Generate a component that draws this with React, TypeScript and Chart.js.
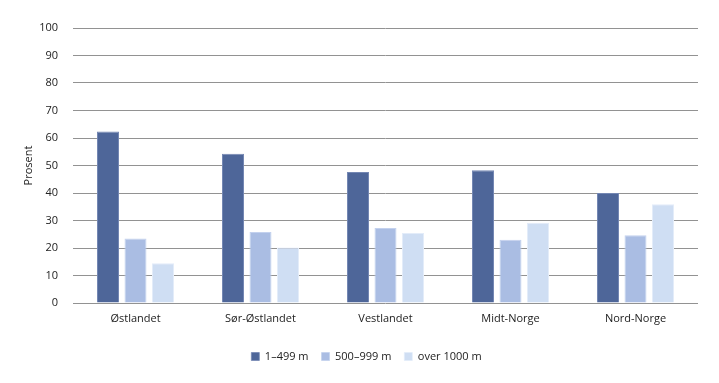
import React, { useEffect, useRef } from "react";
import { Chart, registerables } from "chart.js";

Chart.register(...registerables);

const categories = ["Østlandet", "Sør-Østlandet", "Vestlandet", "Midt-Norge", "Nord-Norge"];
const seriesNames = ["1–499 m", "500–999 m", "over 1000 m"];
const low = [62.4, 54.3, 47.6, 48.3, 40.0];
const mid = [23.5, 25.8, 27.3, 23.0, 24.6];
const high = [14.5, 20.2, 25.5, 29.2, 35.9];
const yTicks = [0, 10, 20, 30, 40, 50, 60, 70, 80, 90, 100];

const FONT = "'Open Sans', 'Noto Sans', sans-serif";

export default function App() {
  const ref = useRef<HTMLCanvasElement | null>(null);
  useEffect(() => {
    document.body.style.margin = "0";
    const ctx = ref.current!.getContext("2d")!;
    const chart = new Chart(ctx, {
      type: "bar",
      data: {
        labels: categories,
        datasets: [
          { label: seriesNames[0], data: low, backgroundColor: "#4e6699", borderColor: "#7487b3", borderWidth: { left: 1, right: 1, top: 1, bottom: 0 } as any },
          { label: seriesNames[1], data: mid, backgroundColor: "#aabde3", borderColor: "#c3d1ee", borderWidth: { left: 1, right: 1, top: 1, bottom: 0 } as any },
          { label: seriesNames[2], data: high, backgroundColor: "#cfdef3", borderColor: "#e3ecf9", borderWidth: { left: 1, right: 1, top: 1, bottom: 0 } as any },
        ],
      },
      options: {
        animation: false,
        responsive: false,
        maintainAspectRatio: false,
        datasets: { bar: { categoryPercentage: 0.66, barPercentage: 0.8 } },
        layout: { padding: { top: 28, right: 21, bottom: 11, left: 35 } },
        plugins: {
          tooltip: { enabled: false },
          legend: {
            position: "bottom",
            labels: {
              boxWidth: 8,
              boxHeight: 8,
              padding: 13,
              color: "#222",
              font: { family: FONT, size: 11 },
            },
          },
        },
        scales: {
          x: {
            grid: { display: false, drawTicks: false },
            border: { display: false },
            ticks: { color: "#222", font: { family: FONT, size: 11 }, padding: 9 },
            afterFit: (s: any) => { s.height = 35; },
          },
          y: {
            min: 0,
            max: 100,
            afterBuildTicks: (s: any) => { s.ticks = yTicks.map((v) => ({ value: v })); },
            grid: { color: "#929292", lineWidth: 1, drawTicks: false },
            border: { display: false },
            ticks: { color: "#222", font: { family: FONT, size: 11 }, padding: 15 },
            title: { display: true, text: "Prosent", color: "#222", font: { family: FONT, size: 11 }, padding: { top: -13, bottom: 0 } },
            afterFit: (s: any) => { s.width = 38; },
          },
        },
      },
    });
    return () => chart.destroy();
  }, []);
  return (
    <div style={{ width: 719, height: 383 }}>
      <canvas ref={ref} width={719} height={383} style={{ display: "block" }} />
    </div>
  );
}
